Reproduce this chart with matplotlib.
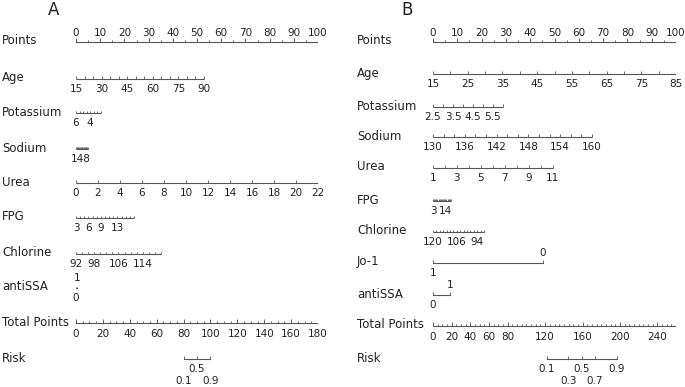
import numpy as np
import matplotlib.pyplot as plt
from matplotlib.transforms import blended_transform_factory

# ---- panel A data ----
a_points_ticks = [0, 10, 20, 30, 40, 50, 60, 70, 80, 90, 100]
a_age_ticks = [15, 20, 25, 30, 35, 40, 45, 50, 55, 60, 65, 70, 75, 80, 85, 90]
a_age_labels = [15, 30, 45, 60, 75, 90]
a_age_pts = (0, 52.9)
a_k_ticks = [6, 5.5, 5, 4.5, 4, 3.5, 3, 2.5]
a_k_labels = [6, 4]
a_k_pts = (0, 10.2)
a_na_ticks = [160, 158, 156, 154, 152, 150, 148, 146, 144, 142, 140, 138, 136, 134, 132, 130]
a_na_labels = [148]
a_na_pts = (0, 5.0)
a_urea_ticks = [0, 2, 4, 6, 8, 10, 12, 14, 16, 18, 20, 22]
a_urea_labels = [0, 2, 4, 6, 8, 10, 12, 14, 16, 18, 20, 22]
a_urea_pts = (0, 100)
a_fpg_ticks = [3, 4, 5, 6, 7, 8, 9, 10, 11, 12, 13, 14, 15, 16, 17]
a_fpg_labels = [3, 6, 9, 13]
a_fpg_pts = (0, 24.0)
a_cl_ticks = [92, 94, 96, 98, 100, 102, 104, 106, 108, 110, 112, 114, 116, 118, 120]
a_cl_labels = [92, 98, 106, 114]
a_cl_pts = (0, 35.1)
a_ssa_values = [0, 1]
a_ssa_pts = [0, 0.6]
a_tp_ticks = np.arange(0, 181, 5)
a_tp_labels = [0, 20, 40, 60, 80, 100, 120, 140, 160, 180]
a_tp_max = 180
a_risk_values = [0.1, 0.5, 0.9]
a_risk_rows = [1, 0, 1]
a_risk_mid, a_risk_slope = 90, 0.2197

# ---- panel B data ----
b_age_ticks = [15, 20, 25, 30, 35, 40, 45, 50, 55, 60, 65, 70, 75, 80, 85]
b_age_labels = [15, 25, 35, 45, 55, 65, 75, 85]
b_age_pts = (0, 100)
b_k_ticks = [2.5, 3, 3.5, 4, 4.5, 5, 5.5, 6]
b_k_labels = [2.5, 3.5, 4.5, 5.5]
b_k_pts = (0, 28.8)
b_na_ticks = [130, 132, 134, 136, 138, 140, 142, 144, 146, 148, 150, 152, 154, 156, 158, 160]
b_na_labels = [130, 136, 142, 148, 154, 160]
b_na_pts = (0, 65.4)
b_urea_ticks = [1, 2, 3, 4, 5, 6, 7, 8, 9, 10, 11]
b_urea_labels = [1, 3, 5, 7, 9, 11]
b_urea_pts = (0, 49.3)
b_fpg_ticks = [3, 4, 5, 6, 7, 8, 9, 10, 11, 12, 13, 14, 15, 16, 17, 18, 19]
b_fpg_labels = [3, 14]
b_fpg_pts = (0, 7.4)
b_cl_ticks = [120, 118, 116, 114, 112, 110, 108, 106, 104, 102, 100, 98, 96, 94, 92, 90]
b_cl_labels = [120, 106, 94]
b_cl_pts = (0, 21.0)
b_jo_values = [1, 0]
b_jo_pts = [0, 45.3]
b_ssa_values = [0, 1]
b_ssa_pts = [0, 7.0]
b_tp_ticks = np.arange(0, 261, 5)
b_tp_labels = [0, 20, 40, 60, 80, 120, 160, 200, 240]
b_tp_max = 260
b_risk_values = [0.1, 0.3, 0.5, 0.7, 0.9]
b_risk_rows = [0, 1, 0, 1, 0]
b_risk_mid, b_risk_slope = 159, 0.0588

W, H = 685, 387
LINE = '#555555'
TXT = '#222222'
FS = 7.5
NAME_FS = 8.5

fig = plt.figure(figsize=(W / 100, H / 100), dpi=100)


def make_axes(x0, x1):
    ax = fig.add_axes([x0 / W, 0, (x1 - x0) / W, 1])
    ax.set_xlim(0, 100)
    ax.set_ylim(H, 0)
    ax.axis('off')
    return ax


def fmt(v):
    return '{:g}'.format(v)


def name(ax, x, y, s):
    tr = blended_transform_factory(fig.transFigure, ax.transData)
    ax.text(x / W, y, s, transform=tr, fontsize=NAME_FS, color=TXT, va='center', ha='left')


def scale(ax, y, ticks, labels, vrange, prange, tlen=3, off=10):
    v0, v1 = ticks[0], ticks[-1]
    pts = prange[0] + (np.array(ticks, float) - v0) / (v1 - v0) * (prange[1] - prange[0])
    ax.plot([pts.min(), pts.max()], [y, y], color=LINE, lw=0.8, solid_capstyle='butt')
    ax.vlines(pts, y - tlen, y, color=LINE, lw=0.6)
    for lab in labels:
        p = prange[0] + (lab - v0) / (v1 - v0) * (prange[1] - prange[0])
        ax.text(p, y + off, fmt(lab), fontsize=FS, color=TXT, ha='center', va='center')


def cat_scale(ax, y, values, pts, rows, tlen=3, off=10):
    ax.plot([min(pts), max(pts)], [y, y], color=LINE, lw=0.8)
    ax.vlines(pts, y - tlen, y, color=LINE, lw=0.6)
    for v, p, r in zip(values, pts, rows):
        ax.text(p, y + (off if r else -off), fmt(v), fontsize=FS, color=TXT,
                ha='center', va='center')


def points_axis(ax, y, labels):
    ticks = np.arange(0, 101, 5)
    ax.plot([0, 100], [y, y], color=LINE, lw=0.8)
    ax.vlines(ticks, y - 2.5, y, color=LINE, lw=0.6)
    ax.vlines(labels, y - 4, y, color=LINE, lw=0.6)
    for lab in labels:
        ax.text(lab, y - 9, fmt(lab), fontsize=FS, color=TXT, ha='center', va='center')


def total_axis(ax, y, ticks, labels, tmax):
    pts = np.array(ticks) / tmax * 100
    ax.plot([0, pts.max()], [y, y], color=LINE, lw=0.8)
    ax.vlines(pts, y - 2.5, y, color=LINE, lw=0.6)
    lp = np.array(labels) / tmax * 100
    ax.vlines(lp, y - 4, y, color=LINE, lw=0.6)
    for lab, p in zip(labels, lp):
        ax.text(p, y + 11, fmt(lab), fontsize=FS, color=TXT, ha='center', va='center')


def risk_axis(ax, y, values, rows, mid, slope, tmax):
    tp = mid + np.log(np.array(values) / (1 - np.array(values))) / slope
    pts = tp / tmax * 100
    ax.plot([pts.min(), pts.max()], [y, y], color=LINE, lw=0.8)
    ax.vlines(pts, y - 3, y, color=LINE, lw=0.6)
    for v, p, r in zip(values, pts, rows):
        ax.text(p, y + 10 + 11.5 * r, fmt(v), fontsize=FS, color=TXT, ha='center', va='center')


# ---------- panel A ----------
axA = make_axes(76, 318)
fig.text(48 / W, 1 - 10 / H, 'A', fontsize=12, color=TXT, ha='left', va='center')
rows_a = {'Points': 42, 'Age': 79, 'Potassium': 113, 'Sodium': 149, 'Urea': 183,
          'FPG': 218, 'Chlorine': 254, 'antiSSA': 288, 'Total Points': 323, 'Risk': 359}
for k, y in rows_a.items():
    name(axA, 2, y - 1, k)
points_axis(axA, rows_a['Points'], a_points_ticks)
scale(axA, rows_a['Age'], a_age_ticks, a_age_labels, None, a_age_pts)
scale(axA, rows_a['Potassium'], a_k_ticks, a_k_labels, None, a_k_pts, tlen=2.5)
scale(axA, rows_a['Sodium'], a_na_ticks, a_na_labels, None, a_na_pts, tlen=2.5)
scale(axA, rows_a['Urea'], a_urea_ticks, a_urea_labels, None, a_urea_pts)
scale(axA, rows_a['FPG'], a_fpg_ticks, a_fpg_labels, None, a_fpg_pts, tlen=2.5)
scale(axA, rows_a['Chlorine'], a_cl_ticks, a_cl_labels, None, a_cl_pts, tlen=2.5)
cat_scale(axA, rows_a['antiSSA'], a_ssa_values, a_ssa_pts, [1, 0], tlen=1.5)
total_axis(axA, rows_a['Total Points'], a_tp_ticks, a_tp_labels, a_tp_max)
risk_axis(axA, rows_a['Risk'], a_risk_values, a_risk_rows, a_risk_mid, a_risk_slope, a_tp_max)

# ---------- panel B ----------
axB = make_axes(433, 676)
fig.text(401 / W, 1 - 10 / H, 'B', fontsize=12, color=TXT, ha='left', va='center')
rows_b = {'Points': 42, 'Age': 74, 'Potassium': 107, 'Sodium': 137, 'Urea': 168,
          'FPG': 201, 'Chlorine': 232, 'Jo-1': 263, 'antiSSA': 295,
          'Total Points': 326, 'Risk': 359}
for k, y in rows_b.items():
    name(axB, 357, y - 1, k)
points_axis(axB, rows_b['Points'], a_points_ticks)
scale(axB, rows_b['Age'], b_age_ticks, b_age_labels, None, b_age_pts)
scale(axB, rows_b['Potassium'], b_k_ticks, b_k_labels, None, b_k_pts)
scale(axB, rows_b['Sodium'], b_na_ticks, b_na_labels, None, b_na_pts)
scale(axB, rows_b['Urea'], b_urea_ticks, b_urea_labels, None, b_urea_pts)
scale(axB, rows_b['FPG'], b_fpg_ticks, b_fpg_labels, None, b_fpg_pts, tlen=2)
scale(axB, rows_b['Chlorine'], b_cl_ticks, b_cl_labels, None, b_cl_pts, tlen=2.5)
cat_scale(axB, rows_b['Jo-1'], b_jo_values, b_jo_pts, [1, 0])
cat_scale(axB, rows_b['antiSSA'], b_ssa_values, b_ssa_pts, [1, 0])
total_axis(axB, rows_b['Total Points'], b_tp_ticks, b_tp_labels, b_tp_max)
risk_axis(axB, rows_b['Risk'], b_risk_values, b_risk_rows, b_risk_mid, b_risk_slope, b_tp_max)

fig.savefig('out.png', dpi=100, facecolor='white')
